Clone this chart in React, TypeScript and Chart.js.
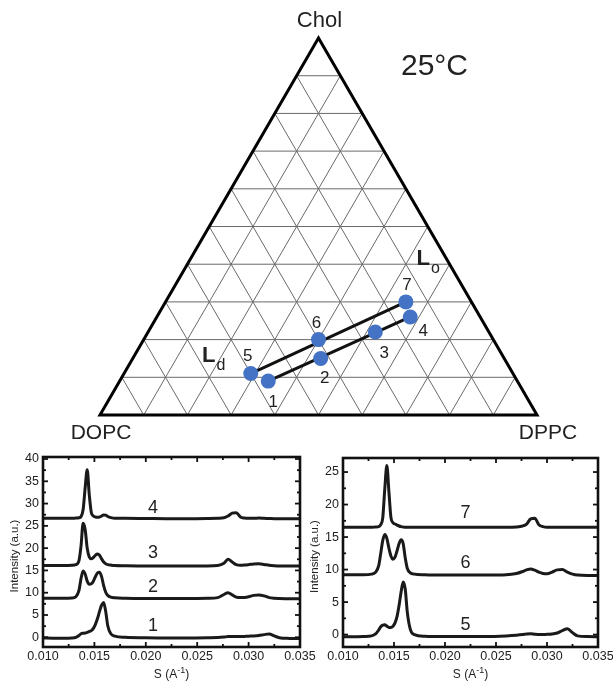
import React, { useEffect, useRef } from "react";
import { Chart, registerables } from "chart.js";
Chart.register(...registerables);

// ---------------- Ternary data ----------------
const SAMPLES = ["1", "2", "3", "4", "5", "6", "7"];
const DOPC = [0.57, 0.42, 0.26, 0.16, 0.6, 0.4, 0.15];
const DPPC = [0.34, 0.43, 0.52, 0.58, 0.29, 0.4, 0.55];
const CHOL = [0.09, 0.15, 0.22, 0.26, 0.11, 0.2, 0.3];
const TIE_LINES: [string, string][] = [["5", "7"], ["1", "4"]];
const GRID_DIVISIONS = 10;
const CORNER_LABELS = ["DOPC", "DPPC", "Chol"];
const TEMPERATURE = "25°C";

// ---------------- Scattering data ----------------
const S_GRID = [0.01, 0.011, 0.012, 0.0128, 0.0132, 0.0135, 0.0137, 0.0139, 0.0141, 0.0143, 0.0145, 0.0147, 0.0149, 0.0151, 0.0153, 0.0155, 0.0157, 0.0159, 0.0161, 0.0163, 0.0166, 0.017, 0.018, 0.02, 0.022, 0.024, 0.026, 0.027, 0.0276, 0.028, 0.0284, 0.0288, 0.0292, 0.0296, 0.03, 0.0305, 0.031, 0.0315, 0.032, 0.0325, 0.033, 0.034, 0.035];

const I1 = [-0.15, -0.2, -0.2, -0.15, 0.0, 0.4, 0.8, 0.9, 0.95, 1.1, 1.3, 1.5, 2.0, 2.9, 4.2, 5.8, 7.2, 7.8, 5.8, 2.6, 0.8, 0.25, 0.0, -0.1, -0.15, -0.15, -0.1, -0.05, 0.05, 0.15, 0.15, 0.15, 0.15, 0.2, 0.25, 0.3, 0.4, 0.6, 0.75, 0.3, -0.1, -0.25, -0.3];
const I2 = [8.75, 8.75, 8.75, 8.8, 9.1, 10.5, 13.2, 14.9, 14.2, 12.6, 11.9, 12.0, 12.6, 13.6, 14.4, 14.6, 13.6, 11.6, 10.1, 9.4, 9.0, 8.85, 8.75, 8.7, 8.7, 8.7, 8.75, 8.9, 9.6, 10.0, 9.5, 9.0, 8.9, 8.95, 9.1, 9.4, 9.5, 9.3, 8.9, 8.75, 8.7, 8.65, 8.65];
const I3 = [16.1, 16.1, 16.1, 16.15, 16.3, 17.2, 20.5, 25.6, 24.2, 20.0, 18.0, 17.6, 17.9, 18.4, 18.7, 18.4, 17.6, 16.9, 16.5, 16.3, 16.2, 16.1, 16.05, 16.0, 16.0, 16.0, 16.0, 16.1, 16.6, 17.5, 16.9, 16.3, 16.15, 16.2, 16.3, 16.45, 16.5, 16.35, 16.15, 16.05, 16.0, 16.0, 16.0];
const I4 = [26.7, 26.7, 26.7, 26.7, 26.75, 26.8, 27.1, 28.6, 33.5, 37.6, 32.0, 28.0, 27.2, 27.0, 26.95, 27.0, 27.2, 27.45, 27.4, 27.1, 26.85, 26.7, 26.7, 26.65, 26.6, 26.6, 26.65, 26.7, 26.8, 27.2, 27.85, 27.95, 27.0, 26.75, 26.7, 26.7, 26.75, 26.7, 26.65, 26.6, 26.6, 26.6, 26.6];
const I5 = [-0.35, -0.35, -0.3, -0.2, 0.1, 0.7, 1.2, 1.45, 1.5, 1.3, 1.1, 1.1, 1.3, 1.8, 2.8, 4.5, 6.6, 8.1, 7.0, 3.5, 0.8, 0.0, -0.25, -0.3, -0.3, -0.3, -0.2, -0.1, 0.0, 0.1, 0.12, 0.05, 0.0, 0.0, 0.05, 0.1, 0.25, 0.6, 0.9, 0.3, -0.2, -0.3, -0.35];
const I6 = [9.2, 9.2, 9.2, 9.3, 9.6, 10.6, 12.5, 14.5, 15.4, 14.8, 13.3, 12.1, 11.6, 11.9, 12.9, 14.0, 14.6, 14.0, 11.8, 10.2, 9.5, 9.3, 9.2, 9.15, 9.15, 9.15, 9.2, 9.4, 9.7, 9.95, 10.1, 9.9, 9.6, 9.4, 9.35, 9.6, 9.95, 10.0, 9.6, 9.3, 9.15, 9.1, 9.1];
const I7 = [16.5, 16.5, 16.5, 16.5, 16.55, 16.6, 16.9, 18.0, 22.5, 26.0, 22.0, 18.0, 17.2, 17.0, 16.85, 16.7, 16.6, 16.55, 16.5, 16.5, 16.5, 16.5, 16.5, 16.5, 16.5, 16.5, 16.5, 16.55, 16.7, 17.0, 17.8, 17.9, 16.9, 16.6, 16.5, 16.5, 16.5, 16.5, 16.5, 16.5, 16.5, 16.5, 16.5];

const LEFT_NAMES = ["1", "2", "3", "4"];
const RIGHT_NAMES = ["5", "6", "7"];
const X_MAJOR = [0.01, 0.015, 0.02, 0.025, 0.03, 0.035];
const X_MINOR = [0.0125, 0.0175, 0.0225, 0.0275, 0.0325];
const LEFT_Y_MAJOR = [0, 5, 10, 15, 20, 25, 30, 35, 40];
const LEFT_Y_MINOR = [2.5, 7.5, 12.5, 17.5, 22.5, 27.5, 32.5, 37.5];
const RIGHT_Y_MAJOR = [0, 5, 10, 15, 20, 25];
const RIGHT_Y_MINOR = [2.5, 7.5, 12.5, 17.5, 22.5];

// ---------------- Styles / placement ----------------
const FONT = '"Liberation Sans", Arial, sans-serif';
const INK = "#222";
const POINT_LABEL_OFFSETS: Record<string, [number, number]> = {
  "1": [5, 21], "2": [4, 20], "3": [9, 21], "4": [13, 14], "5": [-3, -17], "6": [-2, -16], "7": [1, -17],
};
const PHASE_LABELS = [
  { main: "L", sub: "d", dppc: 0.168, chol: 0.162 },
  { main: "L", sub: "o", dppc: 0.53, chol: 0.419 },
];

function tern(dppc: number, chol: number) {
  return { x: dppc + chol / 2, y: (chol * Math.sqrt(3)) / 2 };
}

function Ternary() {
  const ref = useRef<HTMLCanvasElement>(null);
  useEffect(() => {
    const pts = SAMPLES.map((_, i) => tern(DPPC[i], CHOL[i]));
    const idx = (n: string) => SAMPLES.indexOf(n);
    const tieSets = TIE_LINES.map(([a, b]) => ({
      data: [pts[idx(a)], pts[idx(b)]],
      showLine: true,
      borderColor: "#111",
      borderWidth: 3,
      pointRadius: 0,
      order: 2,
    }));
    const plugin = {
      id: "ternaryDecor",
      beforeDatasetsDraw(chart: any) {
        const { ctx, scales } = chart;
        const P = (p: number, c: number) => {
          const t = tern(p, c);
          return [scales.x.getPixelForValue(t.x), scales.y.getPixelForValue(t.y)];
        };
        const line = (a: number[], b: number[]) => {
          ctx.beginPath();
          ctx.moveTo(a[0], a[1]);
          ctx.lineTo(b[0], b[1]);
          ctx.stroke();
        };
        ctx.save();
        ctx.strokeStyle = "#6a6a6a";
        ctx.lineWidth = 1;
        for (let i = 1; i < GRID_DIVISIONS; i++) {
          const f = i / GRID_DIVISIONS;
          line(P(0, f), P(1 - f, f));
          line(P(f, 0), P(f, 1 - f));
          line(P(1 - f, 0), P(0, 1 - f));
        }
        ctx.strokeStyle = "#000";
        ctx.lineWidth = 3;
        ctx.lineJoin = "miter";
        const A = P(0, 0), B = P(1, 0), C = P(0, 1);
        ctx.beginPath();
        ctx.moveTo(A[0], A[1]);
        ctx.lineTo(B[0], B[1]);
        ctx.lineTo(C[0], C[1]);
        ctx.closePath();
        ctx.stroke();
        ctx.restore();
      },
      afterDatasetsDraw(chart: any) {
        const { ctx, scales } = chart;
        const P = (p: number, c: number) => {
          const t = tern(p, c);
          return [scales.x.getPixelForValue(t.x), scales.y.getPixelForValue(t.y)];
        };
        ctx.save();
        ctx.fillStyle = INK;
        ctx.textAlign = "center";
        ctx.textBaseline = "middle";
        const A = P(0, 0), B = P(1, 0), C = P(0, 1);
        ctx.font = `21px ${FONT}`;
        ctx.fillText(CORNER_LABELS[0], A[0] + 1, A[1] + 18);
        ctx.fillText(CORNER_LABELS[1], B[0] + 11, B[1] + 18);
        ctx.font = `22px ${FONT}`;
        ctx.fillText(CORNER_LABELS[2], C[0] + 1, C[1] - 17);
        ctx.font = `30px ${FONT}`;
        ctx.fillText(TEMPERATURE, C[0] + 116, C[1] + 29);
        ctx.font = `17px ${FONT}`;
        SAMPLES.forEach((n, i) => {
          const q = P(DPPC[i], CHOL[i]);
          const o = POINT_LABEL_OFFSETS[n];
          ctx.fillText(n, q[0] + o[0], q[1] + o[1]);
        });
        PHASE_LABELS.forEach((l) => {
          const q = P(l.dppc, l.chol);
          ctx.font = `bold 22px ${FONT}`;
          ctx.textAlign = "center";
          ctx.textBaseline = "alphabetic";
          ctx.fillText(l.main, q[0], q[1] + 8);
          const w = ctx.measureText(l.main).width;
          ctx.font = `16px ${FONT}`;
          ctx.textAlign = "left";
          ctx.fillText(l.sub, q[0] + w / 2 + 1, q[1] + 16);
        });
        ctx.restore();
      },
    };
    const chart = new Chart(ref.current as HTMLCanvasElement, {
      type: "scatter",
      data: {
        datasets: [
          {
            data: pts,
            pointRadius: 7.5,
            pointHoverRadius: 7.5,
            backgroundColor: "#4472c4",
            borderWidth: 0,
            order: 0,
          } as any,
          ...(tieSets as any[]),
        ],
      },
      options: {
        animation: false,
        responsive: false,
        devicePixelRatio: 1,
        events: [],
        layout: { padding: 0, autoPadding: false },
        plugins: { legend: { display: false }, tooltip: { enabled: false } },
        scales: {
          x: { type: "linear", display: false, min: -0.2288, max: 1.1739 },
          y: { type: "linear", display: false, min: -0.0804, max: 0.9534 },
        },
      } as any,
      plugins: [plugin],
    });
    return () => chart.destroy();
  }, []);
  return <canvas ref={ref} width={613} height={450} style={{ position: "absolute", left: 0, top: 0 }} />;
}

type XrdProps = {
  curves: number[][];
  names: string[];
  yMin: number;
  yMax: number;
  yMajor: number[];
  yMinor: number[];
  left: number;
  width: number;
  padding: { left: number; right: number; top: number; bottom: number };
  nameS: number;
  nameY: number[];
  yTitleX: number;
};

function XrdChart(props: XrdProps) {
  const ref = useRef<HTMLCanvasElement>(null);
  useEffect(() => {
    const plugin = {
      id: "frameTicks",
      afterDatasetsDraw(chart: any) {
        const { ctx, chartArea, scales } = chart;
        const { left, right, top, bottom } = chartArea;
        const x = scales.x, y = scales.y;
        const seg = (x1: number, y1: number, x2: number, y2: number) => {
          ctx.beginPath();
          ctx.moveTo(x1, y1);
          ctx.lineTo(x2, y2);
          ctx.stroke();
        };
        ctx.save();
        ctx.strokeStyle = "#111";
        ctx.lineWidth = 1.8;
        X_MAJOR.forEach((v) => {
          const p = x.getPixelForValue(v);
          seg(p, bottom, p, bottom - 5);
          seg(p, top, p, top + 5);
        });
        X_MINOR.forEach((v) => {
          const p = x.getPixelForValue(v);
          seg(p, bottom, p, bottom - 3);
          seg(p, top, p, top + 3);
        });
        props.yMajor.forEach((v) => {
          const p = y.getPixelForValue(v);
          seg(left, p, left + 5, p);
          seg(right, p, right - 5, p);
        });
        props.yMinor.forEach((v) => {
          const p = y.getPixelForValue(v);
          seg(left, p, left + 3, p);
          seg(right, p, right - 3, p);
        });
        ctx.lineWidth = 2.6;
        ctx.strokeRect(left, top, right - left, bottom - top);
        ctx.fillStyle = INK;
        ctx.font = `12.5px ${FONT}`;
        ctx.textAlign = "center";
        ctx.textBaseline = "top";
        X_MAJOR.forEach((v) => ctx.fillText(v.toFixed(3), x.getPixelForValue(v), bottom + 3));
        ctx.textAlign = "right";
        ctx.textBaseline = "middle";
        props.yMajor.forEach((v) => ctx.fillText(String(v), left - 4, y.getPixelForValue(v)));
        const cx = (left + right) / 2;
        const ty = bottom + 31;
        ctx.textBaseline = "alphabetic";
        ctx.textAlign = "left";
        const p1 = "S (A", p2 = "-1", p3 = ")";
        ctx.font = `12px ${FONT}`;
        const w1 = ctx.measureText(p1).width;
        const w3 = ctx.measureText(p3).width;
        ctx.font = `9px ${FONT}`;
        const w2 = ctx.measureText(p2).width;
        const startX = cx - (w1 + w2 + w3) / 2;
        ctx.font = `12px ${FONT}`;
        ctx.fillText(p1, startX, ty);
        ctx.font = `9px ${FONT}`;
        ctx.fillText(p2, startX + w1, ty - 5);
        ctx.font = `12px ${FONT}`;
        ctx.fillText(p3, startX + w1 + w2, ty);
        ctx.save();
        ctx.translate(props.yTitleX, (top + bottom) / 2 + 4);
        ctx.rotate(-Math.PI / 2);
        ctx.textAlign = "center";
        ctx.textBaseline = "middle";
        ctx.font = `11.5px ${FONT}`;
        ctx.fillText("Intensity (a.u.)", 0, 0);
        ctx.restore();
        ctx.font = `18px ${FONT}`;
        ctx.textAlign = "center";
        ctx.textBaseline = "middle";
        props.names.forEach((n, i) => {
          ctx.fillText(n, x.getPixelForValue(props.nameS), y.getPixelForValue(props.nameY[i]));
        });
        ctx.restore();
      },
    };
    const datasets = props.curves.map((vals) => ({
      data: S_GRID.map((s, i) => ({ x: s, y: vals[i] })),
      showLine: true,
      borderColor: "#1a1a1a",
      borderWidth: 3,
      pointRadius: 0,
      cubicInterpolationMode: "monotone",
    }));
    const chart = new Chart(ref.current as HTMLCanvasElement, {
      type: "scatter",
      data: { datasets: datasets as any },
      options: {
        animation: false,
        responsive: false,
        devicePixelRatio: 1,
        events: [],
        layout: { padding: props.padding, autoPadding: false },
        plugins: { legend: { display: false }, tooltip: { enabled: false } },
        scales: {
          x: { type: "linear", display: false, min: 0.01, max: 0.035 },
          y: { type: "linear", display: false, min: props.yMin, max: props.yMax },
        },
      } as any,
      plugins: [plugin],
    });
    return () => chart.destroy();
  }, []);
  return (
    <canvas
      ref={ref}
      width={props.width}
      height={242}
      style={{ position: "absolute", left: props.left, top: 445 }}
    />
  );
}

export default function App() {
  return (
    <div style={{ position: "fixed", left: 0, top: 0, width: 613, height: 687, background: "#fff", overflow: "hidden" }}>
      <Ternary />
      <XrdChart
        curves={[I1, I2, I3, I4]}
        names={LEFT_NAMES}
        yMin={-2.18}
        yMax={40.45}
        yMajor={LEFT_Y_MAJOR}
        yMinor={LEFT_Y_MINOR}
        left={0}
        width={330}
        padding={{ left: 43, right: 30, top: 12, bottom: 40 }}
        nameS={0.0207}
        nameY={[2.5, 11.3, 18.9, 29]}
        yTitleX={15}
      />
      <XrdChart
        curves={[I5, I6, I7]}
        names={RIGHT_NAMES}
        yMin={-1.91}
        yMax={27.16}
        yMajor={RIGHT_Y_MAJOR}
        yMinor={RIGHT_Y_MINOR}
        left={306}
        width={307}
        padding={{ left: 37, right: 15, top: 13, bottom: 40 }}
        nameS={0.022}
        nameY={[1.45, 11.0, 18.7]}
        yTitleX={9}
      />
    </div>
  );
}
